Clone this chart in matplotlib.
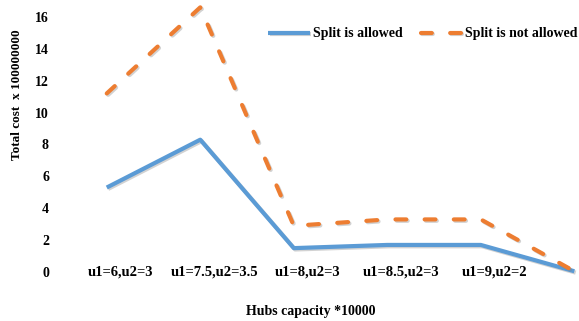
import matplotlib.pyplot as plt
import matplotlib.patheffects as pe
from matplotlib.transforms import offset_copy

# hub capacity scenarios (last point has no label)
categories = ["u1=6,u2=3", "u1=7.5,u2=3.5", "u1=8,u2=3", "u1=8.5,u2=3", "u1=9,u2=2", ""]
split_allowed = [5.3, 8.3, 1.5, 1.7, 1.7, 0.05]
split_not_allowed = [11.2, 16.6, 2.9, 3.3, 3.3, 0.05]
yticks = [0, 2, 4, 6, 8, 10, 12, 14, 16]

plt.rcParams["font.family"] = ["Liberation Serif", "DejaVu Serif"]
plt.rcParams["font.weight"] = "bold"

fig = plt.figure(figsize=(5.79, 3.21), dpi=100)
ax = fig.add_axes([60 / 579, 0, 519 / 579, 1])

shadow = [pe.SimpleLineShadow(offset=(1, -1), shadow_color="gray", alpha=0.35),
          pe.Normal()]

x = list(range(len(categories)))
ax.plot(x, split_allowed, color="#5B9BD5", lw=3, label="Split is allowed",
        solid_capstyle="butt", path_effects=shadow)
ax.plot(x, split_not_allowed, color="#ED7D31", lw=3, dashes=(2.6, 4.4),
        dash_capstyle="round", label="Split is not allowed", path_effects=shadow)

ax.set_xlim(-0.5, 5.05)
ax.set_ylim(-3.07, 17.06)

# category names sit on the zero line, nudged a little to the right
lab_tr = offset_copy(ax.transData, fig=fig, x=14, y=0, units="dots")
for xi, name in zip(x, categories):
    if name:
        ax.text(xi, 0, name, ha="center", va="center", fontsize=10.5,
                fontweight="bold", zorder=5, transform=lab_tr,
                bbox=dict(facecolor="white", edgecolor="none", pad=1))

ax.set_xticks([])
ax.set_yticks(yticks)
ax.set_yticklabels([str(v) for v in yticks], fontsize=10, fontweight="bold")
ax.tick_params(axis="y", length=0, pad=8)
for s in ax.spines.values():
    s.set_visible(False)

fig.text(17 / 579, 1 - 95 / 321, "Total cost  x 100000000", rotation=90,
         ha="center", va="center", fontsize=9.5, fontweight="bold")
fig.text(311 / 579, 9 / 321, "Hubs capacity *10000", ha="center", va="center",
         fontsize=10, fontweight="bold")

fig.legend(loc="center", bbox_to_anchor=(423 / 579, 1 - 34 / 321), ncol=2,
           frameon=False, handlelength=3.0, columnspacing=1.3, handletextpad=0.2,
           borderpad=0.2, prop={"size": 10, "weight": "bold"})

fig.savefig("out.png", dpi=100)
